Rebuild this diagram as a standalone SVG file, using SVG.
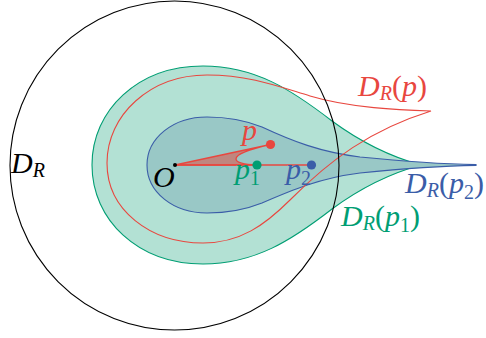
<svg xmlns="http://www.w3.org/2000/svg" width="486" height="338" viewBox="0 0 486 338">
<style>
text{font-family:"Liberation Serif","DejaVu Serif",serif;font-style:italic;font-size:30px}
.sub{font-size:20px}
.up{font-style:normal}
.red{fill:#e8473f}.grn{fill:#009e73}.blu{fill:#3a5da8}.blk{fill:#000}
</style>
<rect width="486" height="338" fill="#fff"/>
<g id="region-p1">
<path d="M421,165 C395,158 362,143 332,121 C292,90 255,66 203,66 C138,66 92,110 92,165 C92,220 138,264 203,264 C255,264 292,240 332,209 C362,187 395,172 421,165 Z" fill="#b3e1d4" stroke="#009e73" stroke-width="1.1"/>
</g>
<g id="region-p2">
<path d="M476,164.6 C440,164 400,161 360,157 C320,152 292,141 262,127 C242,119 225,117 207,117 C173,117 147,138 147,165 C147,192 173,213 207,213 C225,213 242,211 262,203 C292,190 320,178 360,173 C400,169 440,166 476,165.4 Z" fill="#99c8c6" stroke="#3a5da8" stroke-width="1.1"/>
</g>
<g id="region-p">
<path d="M431,111 C400,110 350,108 310,96 C280,87 250,75 207,75 C150,75 107,115 107,163 C107,210 150,243 203,243 C240,243 265,225 290,200 C330,160 370,130 431,111 Z" fill="none" stroke="#e8473f" stroke-width="1.1"/>
</g>
<g id="disk">
<circle cx="174.5" cy="165.5" r="164.5" fill="none" stroke="#000" stroke-width="1.1"/>
</g>
<g id="connectors">
<path d="M175,165 L270.5,144.5 C250,149 236,154 236,159 C236,163 245,164.5 257,165 Z" fill="#c0867f" stroke="#e8473f" stroke-width="1.3"/>
<line x1="175" y1="165" x2="311.5" y2="165" stroke="#e8473f" stroke-width="1.3"/>
</g>
<g id="O">
<circle cx="175" cy="165" r="2" fill="#000"/>
<text x="153" y="187" class="blk">O</text>
</g>
<g id="p">
<circle cx="270.5" cy="144.5" r="4.6" fill="#e8473f"/>
<text x="242" y="140" class="red">p</text>
</g>
<g id="p1">
<circle cx="257" cy="165" r="4.6" fill="#009e73"/>
<text x="235" y="179" class="grn">p<tspan class="sub up" dy="6">1</tspan></text>
</g>
<g id="p2">
<circle cx="311.5" cy="165" r="4.6" fill="#3a5da8"/>
<text x="286" y="179" class="blu">p<tspan class="sub up" dy="6">2</tspan></text>
</g>
<g id="label-DR">
<text x="11" y="173" class="blk">D<tspan class="sub" dy="4">R</tspan></text>
</g>
<g id="label-DRp">
<text x="358" y="96" class="red">D<tspan class="sub" dy="4">R</tspan><tspan class="up" dy="-4">(</tspan>p<tspan class="up">)</tspan></text>
</g>
<g id="label-DRp1">
<text x="341" y="226" class="grn">D<tspan class="sub" dy="4">R</tspan><tspan class="up" dy="-4">(</tspan>p<tspan class="sub up" dy="6">1</tspan><tspan class="up" dy="-6">)</tspan></text>
</g>
<g id="label-DRp2">
<text x="405" y="193" class="blu">D<tspan class="sub" dy="4">R</tspan><tspan class="up" dy="-4">(</tspan>p<tspan class="sub up" dy="6">2</tspan><tspan class="up" dy="-6">)</tspan></text>
</g>
</svg>
